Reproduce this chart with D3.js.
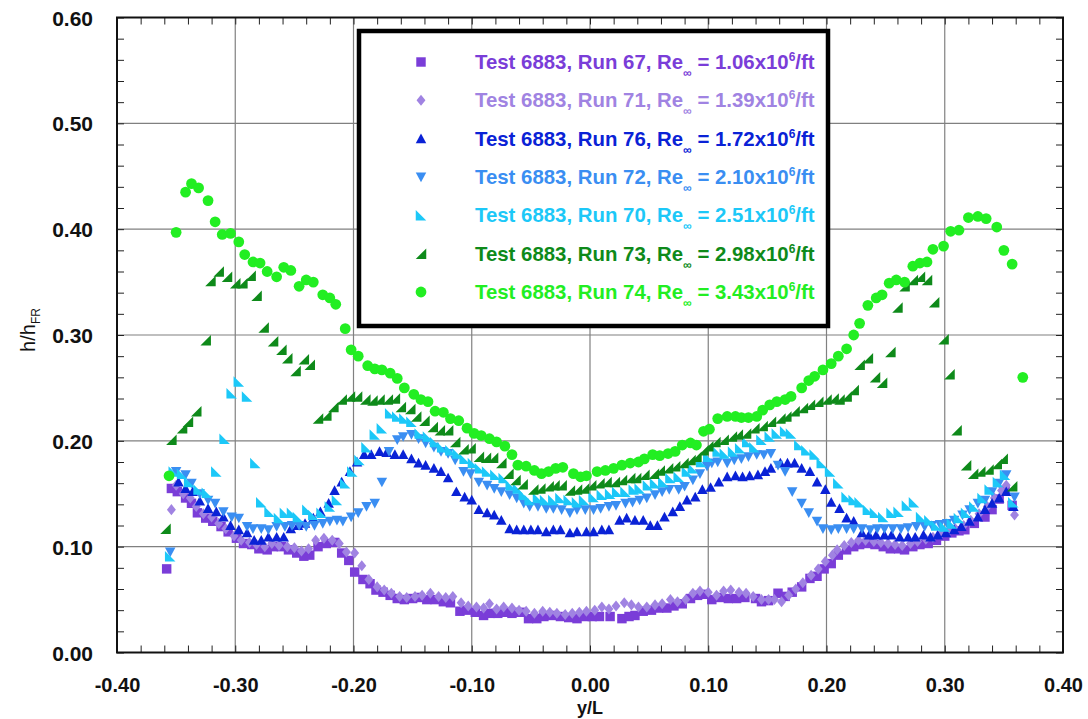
<!DOCTYPE html>
<html>
<head>
<meta charset="utf-8">
<script src="https://cdn.jsdelivr.net/npm/d3@7"></script>
<style>
  html, body { margin: 0; padding: 0; background: #ffffff; }
  svg { display: block; font-family: "Liberation Sans", Arial, Helvetica, sans-serif; }
</style>
</head>
<body>
<svg id="chart" width="1088" height="719"></svg>
<script>
// ---------------- data ----------------
const xTickValues = [-0.40, -0.30, -0.20, -0.10, 0.00, 0.10, 0.20, 0.30, 0.40];
const yTickValues = [0.00, 0.10, 0.20, 0.30, 0.40, 0.50, 0.60];
const xTitle = "y/L";
const yTitleMain = "h/h";
const yTitleSub = "FR";

const seriesNames = ["Run 67", "Run 71", "Run 76", "Run 72", "Run 70", "Run 73", "Run 74"];
const seriesRe = ["1.06", "1.39", "1.72", "2.10", "2.51", "2.98", "3.43"];
const seriesShapes = ["square", "diamond", "triUp", "triDown", "triLeftRight", "triRightRight", "circle"];
const seriesColors = ["#7a3dd8", "#a083e2", "#0a22d6", "#3a8ef2", "#1cc8f8", "#0e8a1a", "#22ee22"];

const run67 = [[-0.358,0.079],[-0.354,0.155],[-0.349,0.152],[-0.342,0.146],[-0.337,0.141],[-0.332,0.132],[-0.325,0.127],[-0.319,0.124],[-0.312,0.119],[-0.306,0.114],[-0.299,0.108],[-0.293,0.103],[-0.286,0.102],[-0.280,0.098],[-0.273,0.097],[-0.268,0.100],[-0.261,0.100],[-0.255,0.097],[-0.248,0.094],[-0.242,0.091],[-0.237,0.092],[-0.230,0.100],[-0.223,0.103],[-0.216,0.104],[-0.210,0.094],[-0.204,0.087],[-0.199,0.076],[-0.192,0.069],[-0.186,0.065],[-0.181,0.059],[-0.175,0.057],[-0.169,0.054],[-0.163,0.051],[-0.157,0.050],[-0.150,0.051],[-0.144,0.052],[-0.138,0.050],[-0.131,0.050],[-0.124,0.048],[-0.118,0.047],[-0.110,0.039],[-0.104,0.040],[-0.097,0.038],[-0.090,0.035],[-0.084,0.037],[-0.078,0.037],[-0.072,0.038],[-0.066,0.037],[-0.059,0.038],[-0.052,0.032],[-0.045,0.032],[-0.039,0.034],[-0.032,0.035],[-0.025,0.034],[-0.018,0.033],[-0.011,0.032],[-0.004,0.034],[0.002,0.034],[0.008,0.034],[0.017,0.034],[0.027,0.032],[0.033,0.034],[0.038,0.035],[0.045,0.039],[0.052,0.040],[0.058,0.042],[0.065,0.042],[0.071,0.044],[0.078,0.046],[0.085,0.051],[0.091,0.054],[0.097,0.055],[0.103,0.050],[0.110,0.052],[0.117,0.051],[0.124,0.051],[0.131,0.052],[0.140,0.051],[0.145,0.048],[0.151,0.049],[0.159,0.056],[0.165,0.053],[0.171,0.057],[0.179,0.062],[0.186,0.070],[0.192,0.072],[0.198,0.079],[0.204,0.084],[0.210,0.092],[0.217,0.097],[0.223,0.100],[0.228,0.102],[0.235,0.103],[0.241,0.102],[0.248,0.100],[0.254,0.098],[0.261,0.098],[0.266,0.097],[0.273,0.100],[0.279,0.102],[0.286,0.103],[0.293,0.106],[0.300,0.110],[0.306,0.113],[0.312,0.115],[0.317,0.116],[0.325,0.122],[0.334,0.128],[0.340,0.135],[0.346,0.145],[0.351,0.153],[0.357,0.139]];

const run71 = [[-0.354,0.135],[-0.350,0.158],[-0.344,0.150],[-0.338,0.146],[-0.333,0.138],[-0.327,0.131],[-0.320,0.128],[-0.314,0.122],[-0.308,0.117],[-0.301,0.110],[-0.295,0.106],[-0.288,0.104],[-0.282,0.102],[-0.275,0.100],[-0.269,0.103],[-0.263,0.101],[-0.256,0.100],[-0.250,0.099],[-0.244,0.096],[-0.238,0.098],[-0.232,0.106],[-0.225,0.108],[-0.218,0.106],[-0.212,0.103],[-0.206,0.095],[-0.199,0.094],[-0.193,0.082],[-0.187,0.069],[-0.180,0.062],[-0.174,0.059],[-0.168,0.056],[-0.161,0.053],[-0.155,0.052],[-0.148,0.053],[-0.142,0.054],[-0.135,0.056],[-0.128,0.053],[-0.122,0.052],[-0.116,0.053],[-0.109,0.047],[-0.103,0.044],[-0.096,0.043],[-0.090,0.042],[-0.085,0.046],[-0.079,0.041],[-0.073,0.043],[-0.066,0.042],[-0.060,0.040],[-0.054,0.039],[-0.047,0.037],[-0.040,0.039],[-0.034,0.038],[-0.028,0.037],[-0.021,0.036],[-0.015,0.037],[-0.009,0.038],[-0.003,0.039],[0.004,0.040],[0.010,0.043],[0.016,0.041],[0.022,0.044],[0.029,0.047],[0.035,0.045],[0.041,0.043],[0.048,0.043],[0.055,0.045],[0.061,0.046],[0.068,0.050],[0.074,0.048],[0.081,0.050],[0.087,0.056],[0.093,0.058],[0.100,0.057],[0.107,0.054],[0.113,0.058],[0.119,0.059],[0.126,0.057],[0.132,0.056],[0.138,0.053],[0.145,0.050],[0.151,0.050],[0.156,0.050],[0.162,0.048],[0.168,0.054],[0.174,0.060],[0.180,0.066],[0.187,0.073],[0.193,0.079],[0.199,0.086],[0.205,0.092],[0.209,0.097],[0.215,0.101],[0.221,0.104],[0.227,0.106],[0.233,0.106],[0.240,0.105],[0.246,0.104],[0.252,0.103],[0.258,0.102],[0.264,0.101],[0.271,0.103],[0.277,0.105],[0.284,0.107],[0.290,0.109],[0.297,0.112],[0.303,0.114],[0.309,0.117],[0.316,0.120],[0.322,0.125],[0.329,0.131],[0.336,0.138],[0.342,0.146],[0.348,0.153],[0.352,0.158],[0.359,0.130]];

const run76 = [[-0.348,0.161],[-0.342,0.155],[-0.336,0.152],[-0.330,0.143],[-0.323,0.136],[-0.316,0.133],[-0.310,0.128],[-0.304,0.120],[-0.297,0.116],[-0.290,0.113],[-0.284,0.106],[-0.278,0.106],[-0.272,0.109],[-0.265,0.109],[-0.259,0.109],[-0.253,0.117],[-0.247,0.120],[-0.241,0.122],[-0.234,0.127],[-0.228,0.133],[-0.221,0.141],[-0.216,0.153],[-0.210,0.161],[-0.203,0.171],[-0.197,0.180],[-0.191,0.187],[-0.185,0.187],[-0.178,0.190],[-0.172,0.189],[-0.165,0.187],[-0.158,0.187],[-0.151,0.183],[-0.145,0.179],[-0.139,0.177],[-0.132,0.174],[-0.126,0.171],[-0.120,0.165],[-0.113,0.152],[-0.106,0.147],[-0.100,0.144],[-0.094,0.135],[-0.087,0.132],[-0.081,0.130],[-0.075,0.125],[-0.068,0.117],[-0.062,0.116],[-0.056,0.116],[-0.050,0.116],[-0.044,0.116],[-0.037,0.114],[-0.031,0.116],[-0.025,0.116],[-0.017,0.113],[-0.011,0.114],[-0.003,0.114],[0.003,0.114],[0.010,0.116],[0.016,0.116],[0.025,0.125],[0.031,0.127],[0.038,0.125],[0.045,0.125],[0.051,0.120],[0.057,0.120],[0.063,0.128],[0.070,0.133],[0.076,0.138],[0.082,0.144],[0.089,0.147],[0.095,0.154],[0.102,0.156],[0.109,0.161],[0.116,0.166],[0.123,0.167],[0.129,0.166],[0.135,0.167],[0.142,0.168],[0.148,0.171],[0.153,0.174],[0.161,0.179],[0.167,0.179],[0.173,0.179],[0.179,0.174],[0.186,0.171],[0.192,0.161],[0.199,0.154],[0.204,0.142],[0.211,0.136],[0.217,0.127],[0.223,0.124],[0.230,0.113],[0.236,0.111],[0.242,0.111],[0.249,0.111],[0.255,0.111],[0.262,0.109],[0.269,0.109],[0.275,0.109],[0.282,0.111],[0.288,0.109],[0.294,0.111],[0.301,0.113],[0.308,0.116],[0.314,0.119],[0.321,0.124],[0.328,0.128],[0.334,0.135],[0.340,0.141],[0.346,0.146],[0.352,0.152],[0.358,0.138]];

const run72 = [[-0.355,0.095],[-0.350,0.171],[-0.342,0.168],[-0.337,0.160],[-0.330,0.150],[-0.323,0.144],[-0.317,0.141],[-0.310,0.133],[-0.303,0.128],[-0.297,0.127],[-0.290,0.119],[-0.285,0.117],[-0.278,0.117],[-0.272,0.116],[-0.265,0.119],[-0.258,0.119],[-0.252,0.120],[-0.246,0.120],[-0.240,0.119],[-0.233,0.120],[-0.226,0.122],[-0.220,0.124],[-0.214,0.125],[-0.209,0.124],[-0.202,0.128],[-0.196,0.132],[-0.189,0.138],[-0.182,0.141],[-0.176,0.161],[-0.170,0.190],[-0.163,0.201],[-0.158,0.204],[-0.151,0.206],[-0.145,0.202],[-0.139,0.198],[-0.132,0.194],[-0.126,0.190],[-0.120,0.188],[-0.114,0.182],[-0.107,0.171],[-0.101,0.169],[-0.094,0.161],[-0.087,0.158],[-0.081,0.155],[-0.075,0.152],[-0.068,0.149],[-0.062,0.146],[-0.056,0.141],[-0.051,0.138],[-0.044,0.138],[-0.037,0.136],[-0.031,0.136],[-0.024,0.135],[-0.017,0.132],[-0.011,0.135],[-0.004,0.135],[0.003,0.135],[0.009,0.136],[0.016,0.138],[0.022,0.139],[0.030,0.141],[0.036,0.142],[0.042,0.144],[0.048,0.146],[0.055,0.149],[0.061,0.152],[0.067,0.154],[0.075,0.154],[0.080,0.157],[0.087,0.163],[0.093,0.169],[0.099,0.176],[0.103,0.179],[0.108,0.180],[0.116,0.179],[0.122,0.182],[0.128,0.183],[0.134,0.185],[0.141,0.187],[0.147,0.187],[0.153,0.188],[0.159,0.177],[0.165,0.171],[0.171,0.152],[0.179,0.141],[0.185,0.132],[0.192,0.124],[0.197,0.117],[0.204,0.116],[0.210,0.117],[0.217,0.117],[0.223,0.117],[0.230,0.117],[0.237,0.116],[0.243,0.117],[0.249,0.117],[0.256,0.117],[0.263,0.117],[0.269,0.118],[0.276,0.119],[0.283,0.119],[0.289,0.120],[0.296,0.121],[0.302,0.122],[0.308,0.125],[0.315,0.130],[0.321,0.135],[0.328,0.141],[0.334,0.144],[0.340,0.152],[0.346,0.160],[0.352,0.168],[0.359,0.147]];

const run70 = [[-0.355,0.091],[-0.352,0.171],[-0.345,0.169],[-0.339,0.161],[-0.331,0.154],[-0.324,0.151],[-0.316,0.171],[-0.309,0.202],[-0.303,0.245],[-0.297,0.256],[-0.290,0.242],[-0.283,0.179],[-0.278,0.142],[-0.271,0.133],[-0.263,0.127],[-0.258,0.132],[-0.252,0.132],[-0.247,0.128],[-0.239,0.135],[-0.234,0.130],[-0.227,0.132],[-0.220,0.138],[-0.214,0.144],[-0.207,0.160],[-0.201,0.171],[-0.195,0.182],[-0.189,0.194],[-0.182,0.206],[-0.176,0.212],[-0.169,0.226],[-0.163,0.223],[-0.157,0.221],[-0.151,0.218],[-0.144,0.207],[-0.137,0.204],[-0.131,0.199],[-0.125,0.194],[-0.118,0.191],[-0.112,0.188],[-0.106,0.183],[-0.099,0.179],[-0.093,0.174],[-0.087,0.171],[-0.080,0.168],[-0.073,0.165],[-0.067,0.158],[-0.061,0.155],[-0.056,0.149],[-0.051,0.144],[-0.044,0.146],[-0.038,0.144],[-0.031,0.144],[-0.025,0.146],[-0.018,0.144],[-0.011,0.142],[-0.005,0.144],[0.003,0.147],[0.010,0.149],[0.017,0.150],[0.023,0.152],[0.030,0.152],[0.037,0.154],[0.042,0.155],[0.049,0.158],[0.055,0.160],[0.062,0.161],[0.068,0.165],[0.075,0.166],[0.082,0.171],[0.087,0.174],[0.094,0.180],[0.100,0.185],[0.108,0.190],[0.114,0.188],[0.121,0.190],[0.127,0.193],[0.133,0.199],[0.139,0.194],[0.145,0.201],[0.152,0.204],[0.158,0.207],[0.165,0.209],[0.170,0.207],[0.177,0.196],[0.183,0.191],[0.190,0.187],[0.196,0.179],[0.203,0.171],[0.210,0.160],[0.217,0.147],[0.223,0.144],[0.228,0.142],[0.235,0.135],[0.241,0.132],[0.248,0.128],[0.255,0.132],[0.261,0.133],[0.268,0.139],[0.274,0.142],[0.280,0.128],[0.287,0.125],[0.293,0.120],[0.300,0.119],[0.306,0.122],[0.312,0.127],[0.318,0.132],[0.325,0.138],[0.332,0.146],[0.338,0.154],[0.345,0.161],[0.351,0.168],[0.358,0.142]];

const run73 = [[-0.359,0.117],[-0.354,0.201],[-0.345,0.212],[-0.340,0.218],[-0.333,0.228],[-0.325,0.295],[-0.321,0.351],[-0.314,0.360],[-0.307,0.355],[-0.300,0.349],[-0.294,0.349],[-0.287,0.356],[-0.282,0.337],[-0.276,0.307],[-0.268,0.294],[-0.261,0.286],[-0.256,0.278],[-0.249,0.266],[-0.242,0.277],[-0.237,0.272],[-0.230,0.221],[-0.223,0.224],[-0.217,0.232],[-0.210,0.239],[-0.203,0.242],[-0.197,0.242],[-0.190,0.239],[-0.184,0.238],[-0.178,0.239],[-0.171,0.239],[-0.165,0.240],[-0.160,0.232],[-0.152,0.230],[-0.147,0.223],[-0.140,0.219],[-0.133,0.213],[-0.127,0.210],[-0.120,0.210],[-0.114,0.199],[-0.107,0.192],[-0.101,0.193],[-0.094,0.185],[-0.088,0.184],[-0.082,0.184],[-0.075,0.179],[-0.069,0.169],[-0.063,0.163],[-0.057,0.159],[-0.048,0.154],[-0.042,0.155],[-0.035,0.157],[-0.030,0.158],[-0.024,0.158],[-0.017,0.153],[-0.011,0.154],[-0.005,0.155],[0.001,0.158],[0.008,0.160],[0.014,0.161],[0.021,0.161],[0.027,0.163],[0.034,0.165],[0.039,0.165],[0.046,0.168],[0.054,0.169],[0.059,0.172],[0.066,0.174],[0.072,0.176],[0.079,0.179],[0.085,0.182],[0.090,0.185],[0.096,0.191],[0.100,0.195],[0.106,0.199],[0.113,0.201],[0.120,0.204],[0.125,0.206],[0.132,0.207],[0.139,0.212],[0.146,0.214],[0.153,0.218],[0.161,0.221],[0.166,0.223],[0.173,0.228],[0.180,0.231],[0.186,0.234],[0.193,0.237],[0.200,0.239],[0.206,0.240],[0.211,0.239],[0.217,0.242],[0.223,0.248],[0.228,0.272],[0.235,0.278],[0.241,0.260],[0.247,0.255],[0.254,0.284],[0.260,0.326],[0.266,0.346],[0.273,0.352],[0.279,0.355],[0.285,0.352],[0.291,0.331],[0.299,0.296],[0.304,0.263],[0.310,0.210],[0.318,0.177],[0.324,0.169],[0.330,0.171],[0.337,0.173],[0.344,0.178],[0.349,0.183],[0.357,0.157]];

const run74 = [[-0.356,0.167],[-0.350,0.397],[-0.342,0.435],[-0.337,0.443],[-0.331,0.439],[-0.323,0.427],[-0.317,0.407],[-0.311,0.395],[-0.304,0.396],[-0.297,0.388],[-0.292,0.376],[-0.285,0.369],[-0.279,0.368],[-0.273,0.360],[-0.265,0.355],[-0.259,0.364],[-0.253,0.361],[-0.246,0.346],[-0.240,0.352],[-0.234,0.350],[-0.226,0.338],[-0.220,0.335],[-0.215,0.329],[-0.207,0.306],[-0.202,0.286],[-0.196,0.280],[-0.188,0.271],[-0.182,0.268],[-0.176,0.267],[-0.169,0.264],[-0.163,0.259],[-0.157,0.250],[-0.149,0.244],[-0.143,0.239],[-0.137,0.237],[-0.131,0.228],[-0.124,0.227],[-0.118,0.221],[-0.111,0.219],[-0.104,0.212],[-0.098,0.207],[-0.092,0.205],[-0.085,0.202],[-0.079,0.199],[-0.072,0.195],[-0.066,0.187],[-0.061,0.177],[-0.054,0.176],[-0.047,0.172],[-0.041,0.169],[-0.035,0.171],[-0.029,0.174],[-0.023,0.175],[-0.014,0.169],[-0.008,0.166],[-0.003,0.167],[0.006,0.171],[0.013,0.172],[0.020,0.174],[0.027,0.177],[0.034,0.179],[0.041,0.180],[0.046,0.183],[0.053,0.187],[0.059,0.186],[0.066,0.188],[0.072,0.190],[0.078,0.196],[0.085,0.198],[0.090,0.196],[0.096,0.209],[0.101,0.211],[0.108,0.221],[0.116,0.223],[0.123,0.223],[0.128,0.222],[0.134,0.222],[0.141,0.223],[0.146,0.229],[0.152,0.234],[0.158,0.237],[0.165,0.239],[0.170,0.242],[0.179,0.250],[0.185,0.257],[0.190,0.261],[0.197,0.267],[0.204,0.273],[0.210,0.280],[0.217,0.287],[0.223,0.300],[0.228,0.311],[0.235,0.328],[0.242,0.335],[0.247,0.338],[0.253,0.349],[0.259,0.352],[0.266,0.350],[0.273,0.365],[0.279,0.368],[0.285,0.369],[0.290,0.381],[0.299,0.384],[0.305,0.398],[0.312,0.399],[0.320,0.411],[0.328,0.412],[0.335,0.410],[0.344,0.402],[0.350,0.380],[0.357,0.367],[0.366,0.260]];

const seriesData = [run67, run71, run76, run72, run70, run73, run74];

// ---------------- layout ----------------
const svg = d3.select("#chart");
const W = 1088, H = 719;
const plot = { left: 117, right: 1063, top: 17.5, bottom: 652.5 };

const x = d3.scaleLinear().domain([-0.4, 0.4]).range([plot.left, plot.right]);
const y = d3.scaleLinear().domain([0, 0.6]).range([plot.bottom, plot.top]);
const fmt = d => d.toFixed(2);

svg.append("rect").attr("width", W).attr("height", H).attr("fill", "#ffffff");

// grid lines (major)
const grid = svg.append("g").attr("class", "grid");
grid.selectAll("line.gx").data(xTickValues.slice(1, -1)).enter().append("line")
  .attr("x1", d => x(d)).attr("x2", d => x(d))
  .attr("y1", plot.top).attr("y2", plot.bottom)
  .attr("stroke", "#808080").attr("stroke-width", 1.2);
grid.selectAll("line.gy").data(yTickValues.slice(1, -1)).enter().append("line")
  .attr("x1", plot.left).attr("x2", plot.right)
  .attr("y1", d => y(d)).attr("y2", d => y(d))
  .attr("stroke", "#808080").attr("stroke-width", 1.2);

// minor + major inward ticks on all four sides
const xMinor = d3.range(-40, 41, 2).map(v => v / 100);
const yMinor = d3.range(0, 61, 2).map(v => v / 100);
const tickLen = 7;
function styleAxis(g) {
  g.select(".domain").remove();
  g.selectAll(".tick line").attr("stroke", "#222").attr("stroke-width", 1);
  g.selectAll(".tick text").remove();
}
svg.append("g").attr("transform", `translate(0,${plot.bottom})`)
  .call(d3.axisBottom(x).tickValues(xMinor).tickSize(-tickLen).tickFormat("")).call(styleAxis);
svg.append("g").attr("transform", `translate(0,${plot.top})`)
  .call(d3.axisTop(x).tickValues(xMinor).tickSize(-tickLen).tickFormat("")).call(styleAxis);
svg.append("g").attr("transform", `translate(${plot.left},0)`)
  .call(d3.axisLeft(y).tickValues(yMinor).tickSize(-tickLen).tickFormat("")).call(styleAxis);
svg.append("g").attr("transform", `translate(${plot.right},0)`)
  .call(d3.axisRight(y).tickValues(yMinor).tickSize(-tickLen).tickFormat("")).call(styleAxis);

// tick labels via axes
const xLab = svg.append("g").attr("transform", `translate(0,${plot.bottom})`)
  .call(d3.axisBottom(x).tickValues(xTickValues).tickSize(0).tickPadding(39.5).tickFormat(fmt));
xLab.select(".domain").remove();
xLab.selectAll("text").attr("font-family", "Liberation Sans, Arial, sans-serif")
  .attr("font-size", 20).attr("font-weight", "bold").attr("fill", "#111").attr("dy", "0");

const yLab = svg.append("g").attr("transform", `translate(${plot.left},0)`)
  .call(d3.axisLeft(y).tickValues(yTickValues).tickSize(0).tickPadding(24).tickFormat(fmt));
yLab.select(".domain").remove();
yLab.selectAll("text").attr("font-family", "Liberation Sans, Arial, sans-serif")
  .attr("font-size", 21).attr("font-weight", "bold").attr("fill", "#111").attr("dy", "0.36em");

// ---------------- markers ----------------
function shapePath(shape, s) {
  const h = s / 2;
  switch (shape) {
    case "square": return `M${-h * 0.9},${-h * 0.9}H${h * 0.9}V${h * 0.9}H${-h * 0.9}Z`;
    case "diamond": return `M0,${-h * 1.05}L${h * 0.85},0L0,${h * 1.05}L${-h * 0.85},0Z`;
    case "triUp": return `M0,${-h}L${h},${h * 0.85}L${-h},${h * 0.85}Z`;
    case "triDown": return `M0,${h}L${h},${-h * 0.85}L${-h},${-h * 0.85}Z`;
    case "triLeftRight": return `M${-h},${-h}L${-h},${h}L${h},${h}Z`;
    case "triRightRight": return `M${h},${-h}L${h},${h}L${-h},${h}Z`;
    case "circle": return d3.symbol().type(d3.symbolCircle).size(Math.PI * h * h * 1.05)();
  }
}
const markerSize = 10.5;

const pts = svg.append("g").attr("class", "points");
seriesData.forEach((data, i) => {
  pts.append("g").selectAll("path").data(data).enter().append("path")
    .attr("d", shapePath(seriesShapes[i], markerSize))
    .attr("transform", d => `translate(${x(d[0])},${y(d[1])})`)
    .attr("fill", seriesColors[i]);
});

// frame
svg.append("rect").attr("x", plot.left).attr("y", plot.top)
  .attr("width", plot.right - plot.left).attr("height", plot.bottom - plot.top)
  .attr("fill", "none").attr("stroke", "#111").attr("stroke-width", 2);

// ---------------- axis titles ----------------
svg.append("text").attr("x", x(0)).attr("y", 714)
  .attr("text-anchor", "middle").attr("font-size", 18).attr("font-weight", "bold")
  .attr("fill", "#111").text(xTitle);

const yt = svg.append("text").attr("transform", "translate(35,330) rotate(-90)")
  .attr("text-anchor", "middle").attr("font-size", 20).attr("fill", "#111");
yt.append("tspan").text(yTitleMain);
yt.append("tspan").attr("font-size", 12).attr("dy", 5).text(yTitleSub);

// ---------------- legend ----------------
const lg = svg.append("g").attr("class", "legend");
lg.append("rect").attr("x", 359).attr("y", 31).attr("width", 469).attr("height", 295)
  .attr("fill", "#ffffff").attr("stroke", "#000").attr("stroke-width", 4.5);

const legendY = d3.scalePoint().domain(seriesNames).range([62, 292]);
seriesNames.forEach((name, i) => {
  const cy = legendY(name);
  lg.append("path").attr("d", shapePath(seriesShapes[i], markerSize))
    .attr("transform", `translate(421,${cy})`).attr("fill", seriesColors[i]);
  const t = lg.append("text").attr("x", 475).attr("y", cy + 7)
    .attr("font-size", 20.4).attr("font-weight", "bold").attr("fill", seriesColors[i]);
  t.append("tspan").text(`Test 6883, ${name}, Re`);
  t.append("tspan").attr("font-size", 12).attr("dy", 8).text("\u221E");
  t.append("tspan").attr("dy", -8).text(` = ${seriesRe[i]}x10`);
  t.append("tspan").attr("font-size", 12).attr("dy", -8).text("6");
  t.append("tspan").attr("dy", 8).text("/ft");
});
</script>
</body>
</html>
